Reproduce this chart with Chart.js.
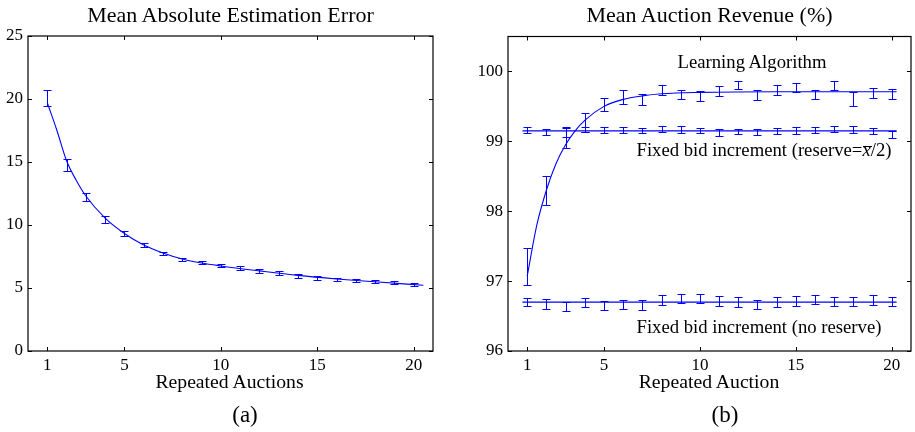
<!DOCTYPE html>
<html><head><meta charset="utf-8">
<script src="https://cdn.jsdelivr.net/npm/chart.js@4/dist/chart.umd.min.js"></script>
<style>
html,body{margin:0;padding:0;background:#fff;}
#wrap{position:relative;width:915px;height:432px;overflow:hidden;font-family:'Liberation Serif','Times New Roman',serif;color:#000;}
canvas{position:absolute;top:0;}
.t{position:absolute;white-space:nowrap;line-height:1;}
.xb{position:relative;font-style:italic;}
.xb i{position:absolute;left:0.5px;right:-1px;top:6.2px;border-top:1.5px solid #000;}
</style></head><body>
<div id="wrap">
<canvas id="c1" width="455" height="432" style="left:0px"></canvas>
<canvas id="c2" width="460" height="432" style="left:455px"></canvas>
</div>
<script>
// ---------- data ----------
const auctions = [1,2,3,4,5,6,7,8,9,10,11,12,13,14,15,16,17,18,19,20];
const xTicks = [1,5,10,15,20];
const errTicks = [0,5,10,15,20,25];
const revTicks = [96,97,98,99,100];

// (a) mean absolute estimation error
const estMean = [20.08,14.76,12.23,10.46,9.35,8.39,7.74,7.27,7.04,6.79,6.59,6.36,6.20,5.97,5.81,5.67,5.61,5.50,5.44,5.28];
const estErr  = [0.63,0.45,0.33,0.28,0.20,0.16,0.14,0.13,0.13,0.14,0.13,0.15,0.14,0.14,0.14,0.14,0.13,0.13,0.12,0.14];
const estFitX = [1,1.5,2,2.5,3,4,5,6,7,8,9,10,12,14,16,18,20.5];
const estFitY = [19.7,17.5,15.1,13.55,12.3,10.55,9.33,8.42,7.78,7.3,6.98,6.75,6.36,6.0,5.72,5.49,5.22];

// (b) mean auction revenue (%)
const learnMean = [97.21,98.30,99.05,99.27,99.53,99.63,99.60,99.73,99.67,99.65,99.72,99.81,99.66,99.73,99.77,99.67,99.80,99.61,99.69,99.68];
const learnErr  = [0.26,0.21,0.14,0.14,0.09,0.10,0.08,0.07,0.07,0.07,0.07,0.06,0.07,0.07,0.07,0.07,0.06,0.10,0.07,0.07];
const learnFitX = [1,1.5,2,2.5,3,3.5,4,5,6,7,8,10,14,20.25];
const learnFitY = [97.07,97.8,98.3,98.68,98.95,99.15,99.3,99.5,99.6,99.65,99.68,99.7,99.71,99.71];

const reserveMean = [99.16,99.13,99.13,99.17,99.16,99.16,99.16,99.18,99.17,99.15,99.13,99.14,99.13,99.15,99.16,99.16,99.18,99.17,99.15,99.10];
const reserveErr  = [0.04,0.04,0.07,0.04,0.04,0.04,0.035,0.04,0.05,0.035,0.05,0.04,0.04,0.04,0.05,0.04,0.04,0.05,0.045,0.05];
const noResMean = [96.70,96.67,96.64,96.70,96.65,96.67,96.66,96.73,96.75,96.75,96.71,96.70,96.67,96.70,96.72,96.74,96.71,96.71,96.73,96.71];
const noResErr  = [0.06,0.07,0.065,0.065,0.07,0.065,0.07,0.065,0.065,0.065,0.07,0.07,0.065,0.07,0.07,0.065,0.065,0.065,0.07,0.065];
const flatX = [0.75,20.25];
const reserveFit = [99.15,99.15];
const noResFit = [96.70,96.70];

// ---------- drawing ----------
const BLUE = '#0000ff';
const FONT = "'Liberation Serif','Times New Roman',serif";
const pts = (xs, ys) => xs.map((x, i) => ({x, y: ys[i]}));

const framePlugin = {
  id: 'frame',
  afterDatasetsDraw(chart) {
    const {ctx, chartArea: a, scales} = chart;
    const sx = scales.x, sy = scales.y;
    ctx.save();
    chart.data.datasets.forEach(ds => {
      if (!ds.errorBars) return;
      ctx.strokeStyle = BLUE; ctx.lineWidth = 1;
      ctx.beginPath();
      ds.data.forEach((p, i) => {
        const x = Math.round(sx.getPixelForValue(p.x)) + 0.5;
        const y1 = Math.round(sy.getPixelForValue(p.y - ds.errorBars[i])) + 0.5;
        const y2 = Math.round(sy.getPixelForValue(p.y + ds.errorBars[i])) + 0.5;
        ctx.moveTo(x, y1); ctx.lineTo(x, y2);
        ctx.moveTo(x - 4, y1); ctx.lineTo(x + 4, y1);
        ctx.moveTo(x - 4, y2); ctx.lineTo(x + 4, y2);
      });
      ctx.stroke();
    });
    ctx.strokeStyle = '#000'; ctx.lineWidth = 1.2;
    ctx.strokeRect(a.left, a.top, a.right - a.left, a.bottom - a.top);
    const L = 4;
    ctx.lineWidth = 1;
    ctx.beginPath();
    sx.ticks.forEach(t => {
      const x = Math.round(sx.getPixelForValue(t.value)) + 0.5;
      ctx.moveTo(x, a.bottom); ctx.lineTo(x, a.bottom - L);
      ctx.moveTo(x, a.top); ctx.lineTo(x, a.top + L);
    });
    sy.ticks.forEach(t => {
      const y = Math.round(sy.getPixelForValue(t.value)) + 0.5;
      ctx.moveTo(a.left, y); ctx.lineTo(a.left + L, y);
      ctx.moveTo(a.right, y); ctx.lineTo(a.right - L, y);
    });
    ctx.stroke();
    ctx.restore();
  }
};

function errDs(ys, errs) {
  return {data: pts(auctions, ys), errorBars: errs, pointRadius: 0, showLine: false};
}
function lineDs(xs, ys) {
  return {data: pts(xs, ys), showLine: true, pointRadius: 0, borderColor: BLUE,
          borderWidth: 1.1, cubicInterpolationMode: 'monotone', fill: false};
}

function makeChart(id, datasets, yMin, yMax, yTicks, padTop, padRight, yWidth) {
  return new Chart(document.getElementById(id), {
    type: 'scatter',
    data: {datasets},
    options: {
      responsive: false, animation: false, devicePixelRatio: 1,
      layout: {padding: {top: padTop, right: padRight, left: 0, bottom: 0}},
      plugins: {legend: {display: false}, tooltip: {enabled: false}, title: {display: false}},
      scales: {
        x: {
          type: 'linear', min: 0, max: 21,
          grid: {display: false, drawTicks: false}, border: {display: false},
          afterBuildTicks: s => { s.ticks = xTicks.map(v => ({value: v})); },
          afterFit: s => { s.height = 81; },
          ticks: {font: {family: FONT, size: 17}, color: '#000', padding: 4,
                  maxRotation: 0, autoSkip: false, callback: v => String(v)}
        },
        y: {
          type: 'linear', min: yMin, max: yMax,
          grid: {display: false, drawTicks: false}, border: {display: false},
          afterBuildTicks: s => { s.ticks = yTicks.map(v => ({value: v})); },
          afterFit: s => { s.width = yWidth; },
          ticks: {font: {family: FONT, size: 17}, color: '#000', padding: 5,
                  autoSkip: false, callback: v => String(v)}
        }
      }
    },
    plugins: [framePlugin]
  });
}

makeChart('c1', [errDs(estMean, estErr), lineDs(estFitX, estFitY)],
          0, 25, errTicks, 36, 22, 28);
makeChart('c2', [
    errDs(learnMean, learnErr), lineDs(learnFitX, learnFitY),
    errDs(reserveMean, reserveErr), lineDs(flatX, reserveFit),
    errDs(noResMean, noResErr), lineDs(flatX, noResFit)
  ], 96, 100.5, revTicks, 36.5, 4, 53);

// ---------- text ----------
const wrap = document.getElementById('wrap');
function place(html, x, baseline, size, align) {
  const d = document.createElement('div');
  d.className = 't';
  d.innerHTML = html;
  d.style.fontSize = size + 'px';
  d.style.top = (baseline - 0.8375 * size) + 'px';
  d.style.left = x + 'px';
  if (align === 'center') d.style.transform = 'translateX(-50%)';
  wrap.appendChild(d);
}
place('Mean Absolute Estimation Error', 230.5, 22.7, 22, 'center');
place('Mean Auction Revenue (%)', 709.5, 22.7, 22, 'center');
place('Repeated Auctions', 229.5, 388.5, 19.7, 'center');
place('Repeated Auction', 709, 388.5, 19.7, 'center');
place('(a)', 245, 422, 23, 'center');
place('(b)', 725, 422, 23, 'center');
place('Learning Algorithm', 752, 69, 18.7, 'center');
place('Fixed bid increment (reserve=<span class="xb">x<i></i></span>/2)', 636.5, 157, 18.7, 'left');
place('Fixed bid increment (no reserve)', 636.5, 333.5, 18.7, 'left');
</script>
</body></html>
